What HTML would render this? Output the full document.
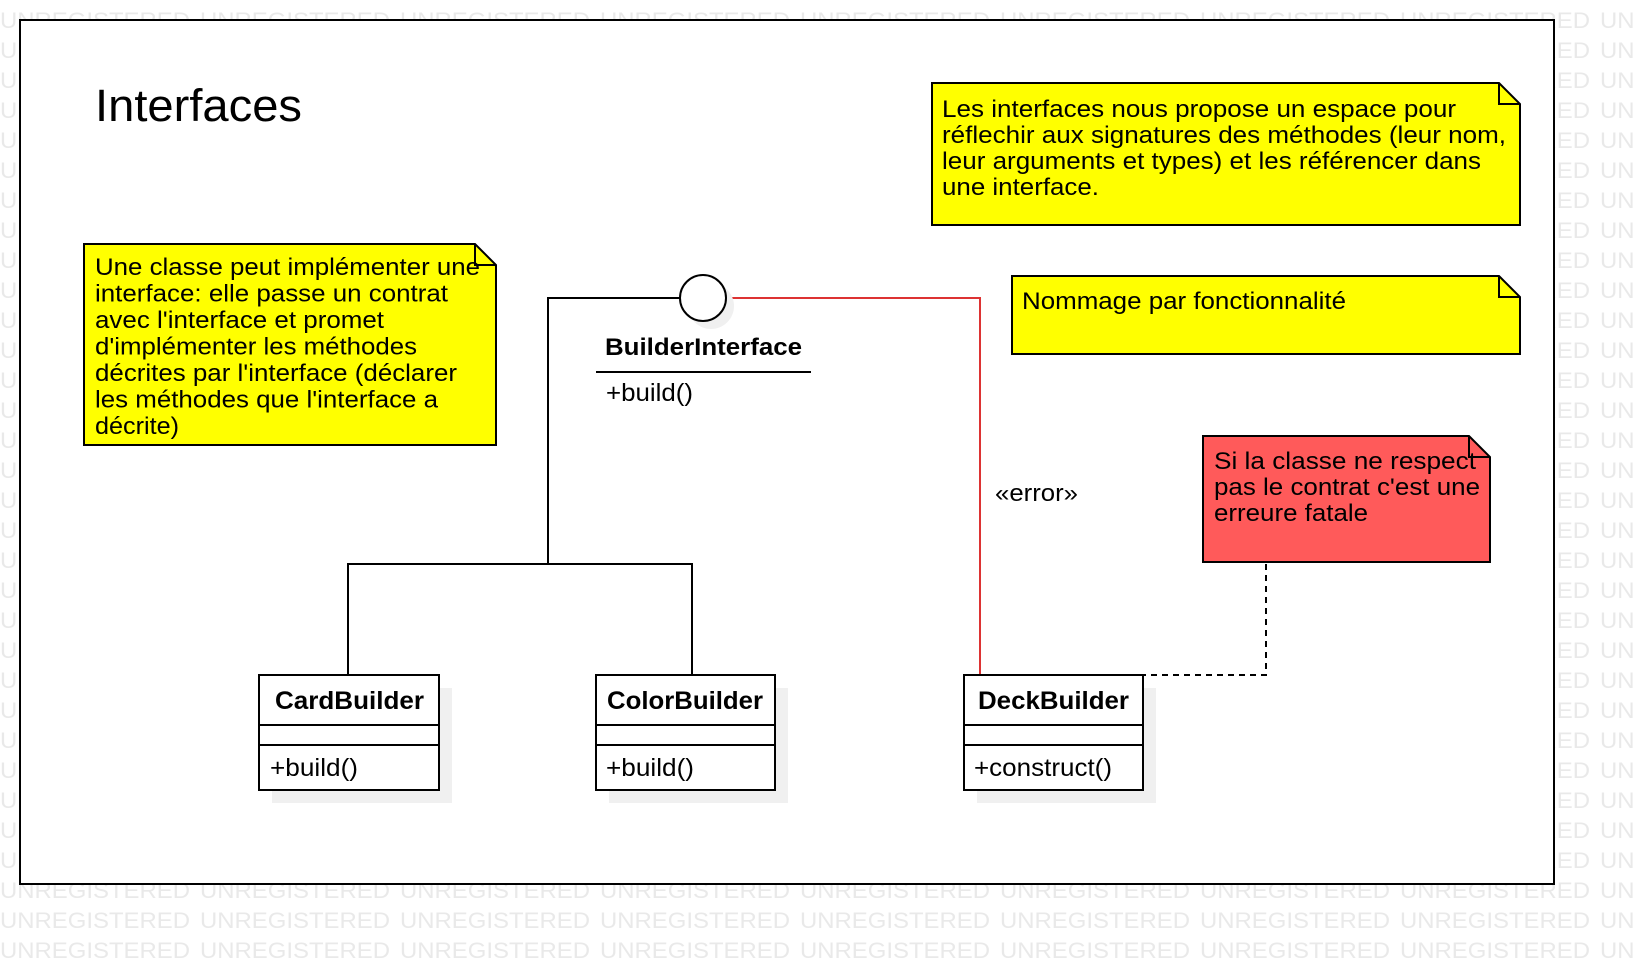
<!DOCTYPE html>
<html><head><meta charset="utf-8"><style>
html,body{margin:0;padding:0;background:#fff;}
svg{display:block;}
text{font-family:"Liberation Sans",Arial,sans-serif;}
</style></head><body>
<svg width="1634" height="964" viewBox="0 0 1634 964" xmlns="http://www.w3.org/2000/svg">
<defs>
<pattern id="wm" x="0" y="0" width="200" height="30" patternUnits="userSpaceOnUse">
<text x="0" y="28" font-size="22" fill="#e9e9e9" textLength="190" lengthAdjust="spacingAndGlyphs">UNREGISTERED</text>
</pattern>
</defs>
<rect x="0" y="0" width="1634" height="964" fill="url(#wm)"/>
<rect x="20" y="20" width="1534" height="864" fill="#fff" stroke="#000" stroke-width="2"/>

<text x="95" y="121" font-size="45" textLength="207" lengthAdjust="spacingAndGlyphs">Interfaces</text>

<!-- top note -->
<path d="M932,83 H1499 L1520,104 V225 H932 Z" fill="#ffff00" stroke="#000" stroke-width="2"/>
<path d="M1499,83 V104 H1520" fill="none" stroke="#000" stroke-width="2"/>
<g font-size="24">
<text x="942" y="117" textLength="514" lengthAdjust="spacingAndGlyphs">Les interfaces nous propose un espace pour</text>
<text x="942" y="143" textLength="564" lengthAdjust="spacingAndGlyphs">réflechir aux signatures des méthodes (leur nom,</text>
<text x="942" y="169" textLength="539" lengthAdjust="spacingAndGlyphs">leur arguments et types) et les référencer dans</text>
<text x="942" y="195" textLength="157" lengthAdjust="spacingAndGlyphs">une interface.</text>
</g>

<!-- naming note -->
<path d="M1012,276 H1499 L1520,297 V354 H1012 Z" fill="#ffff00" stroke="#000" stroke-width="2"/>
<path d="M1499,276 V297 H1520" fill="none" stroke="#000" stroke-width="2"/>
<text x="1022" y="309" font-size="24" textLength="324" lengthAdjust="spacingAndGlyphs">Nommage par fonctionnalité</text>

<!-- left note -->
<path d="M84,244 H475 L496,265 V445 H84 Z" fill="#ffff00" stroke="#000" stroke-width="2"/>
<path d="M475,244 V265 H496" fill="none" stroke="#000" stroke-width="2"/>
<g font-size="24">
<text x="95" y="275" textLength="385" lengthAdjust="spacingAndGlyphs">Une classe peut implémenter une</text>
<text x="95" y="301.5" textLength="353" lengthAdjust="spacingAndGlyphs">interface: elle passe un contrat</text>
<text x="95" y="328" textLength="289" lengthAdjust="spacingAndGlyphs">avec l'interface et promet</text>
<text x="95" y="354.5" textLength="322" lengthAdjust="spacingAndGlyphs">d'implémenter les méthodes</text>
<text x="95" y="381" textLength="362" lengthAdjust="spacingAndGlyphs">décrites par l'interface (déclarer</text>
<text x="95" y="407.5" textLength="343" lengthAdjust="spacingAndGlyphs">les méthodes que l'interface a</text>
<text x="95" y="434" textLength="84" lengthAdjust="spacingAndGlyphs">décrite)</text>
</g>

<!-- red note -->
<path d="M1203,436 H1469 L1490,457 V562 H1203 Z" fill="#ff5a5a" stroke="#000" stroke-width="2"/>
<path d="M1469,436 V457 H1490" fill="none" stroke="#000" stroke-width="2"/>
<g font-size="24">
<text x="1214" y="469" textLength="262" lengthAdjust="spacingAndGlyphs">Si la classe ne respect</text>
<text x="1214" y="495" textLength="266" lengthAdjust="spacingAndGlyphs">pas le contrat c'est une</text>
<text x="1214" y="521" textLength="154" lengthAdjust="spacingAndGlyphs">erreure fatale</text>
</g>

<!-- connectors -->
<path d="M680,298 H548 V564 M348,675 V564 H692 V675" fill="none" stroke="#000" stroke-width="2"/>
<path d="M726,298 H980 V675" fill="none" stroke="#d33" stroke-width="2"/>
<path d="M1266,564 V675 H1143" fill="none" stroke="#000" stroke-width="2" stroke-dasharray="6,5"/>
<text x="995" y="501" font-size="24" textLength="83" lengthAdjust="spacingAndGlyphs">«error»</text>

<!-- interface -->
<circle cx="711" cy="306" r="23" fill="#f0f0f0"/>
<circle cx="703" cy="298" r="23" fill="#fff" stroke="#000" stroke-width="2"/>
<text x="605" y="355" font-size="24" font-weight="bold" textLength="197" lengthAdjust="spacingAndGlyphs">BuilderInterface</text>
<line x1="596" y1="372" x2="811" y2="372" stroke="#000" stroke-width="2"/>
<text x="606" y="401" font-size="25" textLength="87" lengthAdjust="spacingAndGlyphs">+build()</text>

<!-- classes -->
<g>
<rect x="272" y="688" width="180" height="115" fill="#f0f0f0"/>
<rect x="259" y="675" width="180" height="115" fill="#fff" stroke="#000" stroke-width="2"/>
<path d="M259,725 H439 M259,745 H439" stroke="#000" stroke-width="2"/>
<text x="275" y="709" font-size="25" font-weight="bold" textLength="149" lengthAdjust="spacingAndGlyphs">CardBuilder</text>
<text x="270" y="776" font-size="25" textLength="88" lengthAdjust="spacingAndGlyphs">+build()</text>

<rect x="609" y="688" width="179" height="115" fill="#f0f0f0"/>
<rect x="596" y="675" width="179" height="115" fill="#fff" stroke="#000" stroke-width="2"/>
<path d="M596,725 H775 M596,745 H775" stroke="#000" stroke-width="2"/>
<text x="607" y="709" font-size="25" font-weight="bold" textLength="156" lengthAdjust="spacingAndGlyphs">ColorBuilder</text>
<text x="606" y="776" font-size="25" textLength="88" lengthAdjust="spacingAndGlyphs">+build()</text>

<rect x="977" y="688" width="179" height="115" fill="#f0f0f0"/>
<rect x="964" y="675" width="179" height="115" fill="#fff" stroke="#000" stroke-width="2"/>
<path d="M964,725 H1143 M964,745 H1143" stroke="#000" stroke-width="2"/>
<text x="978" y="709" font-size="25" font-weight="bold" textLength="151" lengthAdjust="spacingAndGlyphs">DeckBuilder</text>
<text x="974" y="776" font-size="25" textLength="138" lengthAdjust="spacingAndGlyphs">+construct()</text>
</g>
</svg>
</body></html>
